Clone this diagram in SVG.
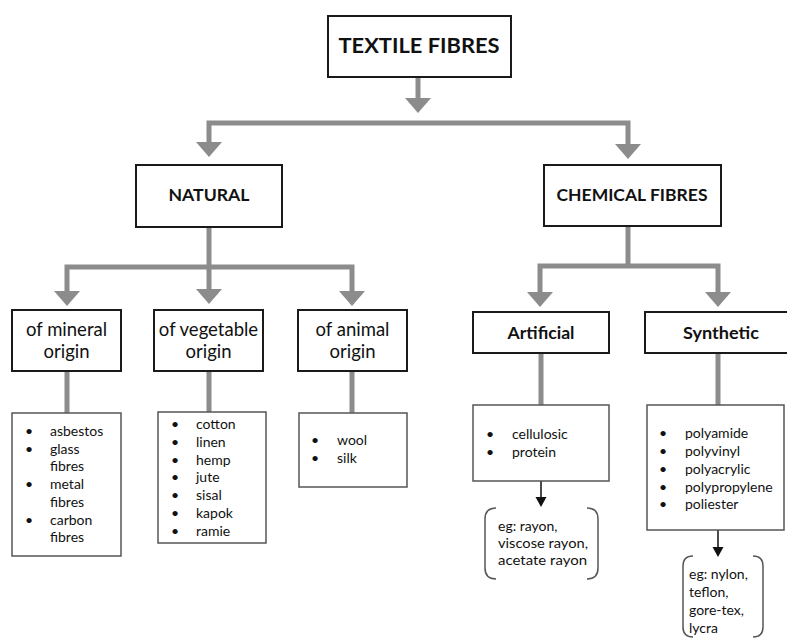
<svg xmlns="http://www.w3.org/2000/svg" width="787" height="640" viewBox="0 0 787 640">
<style>
.bg{fill:#fff}
.box{fill:#fff;stroke:#1a1a1a;stroke-width:2}
.list{fill:#fff;stroke:#555;stroke-width:1.5}
.conn{fill:none;stroke:#8c8c8c;stroke-width:5}
.head{fill:#8c8c8c}
.blk{fill:none;stroke:#111;stroke-width:1.5}
.bhead{fill:#111}
.brk{fill:none;stroke:#555;stroke-width:1.5}
.t{font-family:Lato,"Liberation Sans",sans-serif;fill:#111}
.b{font-weight:bold}
.c{text-anchor:middle}
.h1{font-size:21px}
.h2{font-size:17.5px}
.o{font-size:18.5px}
.l{font-size:14px}
</style>
<rect class="bg" x="0" y="0" width="787" height="640"/>
<g id="connectors">
<path class="conn" d="M418 77V99"/>
<polygon class="head" points="405,98 431,98 418,113"/>
<path class="conn" d="M209 142V123H628V144"/>
<polygon class="head" points="196,142 222,142 209,157"/>
<polygon class="head" points="615,144 641,144 628,159"/>
<path class="conn" d="M209 227V290"/>
<path class="conn" d="M67 292V267H352V292"/>
<polygon class="head" points="54,291 80,291 67,306"/>
<polygon class="head" points="196,289 222,289 209,304"/>
<polygon class="head" points="339,291 365,291 352,306"/>
<path class="conn" d="M628 226V266"/>
<path class="conn" d="M540 293V266H718V293"/>
<polygon class="head" points="527,292 553,292 540,307"/>
<polygon class="head" points="705,292 731,292 718,307"/>
<path class="conn" d="M67 371V413M209 371V412M352 371V413M541 353V405M718 353V405"/>
<path class="blk" d="M541 481V499M718 530V548"/>
<polygon class="bhead" points="535.5,497 546.5,497 541,507"/>
<polygon class="bhead" points="712.5,547 723.5,547 718,557"/>
</g>
<g id="textile-fibres">
<rect class="box" x="328" y="16" width="183" height="61"/>
<text class="t b c h1" x="419" y="53" textLength="161" lengthAdjust="spacingAndGlyphs">TEXTILE FIBRES</text>
</g>
<g id="natural">
<rect class="box" x="136" y="165" width="146" height="62"/>
<text class="t b c h2" x="209" y="201" textLength="81" lengthAdjust="spacingAndGlyphs">NATURAL</text>
</g>
<g id="chemical-fibres">
<rect class="box" x="544" y="165" width="177" height="61"/>
<text class="t b c h2" x="632" y="201" textLength="151" lengthAdjust="spacingAndGlyphs">CHEMICAL FIBRES</text>
</g>
<g id="mineral">
<rect class="box" x="12" y="310" width="109" height="61"/>
<text class="t c o" x="66.5" y="336">of mineral</text>
<text class="t c o" x="66.5" y="358">origin</text>
</g>
<g id="vegetable">
<rect class="box" x="154" y="310" width="109" height="61"/>
<text class="t c o" x="208.5" y="336">of vegetable</text>
<text class="t c o" x="208.5" y="358">origin</text>
</g>
<g id="animal">
<rect class="box" x="298" y="310" width="109" height="61"/>
<text class="t c o" x="352.5" y="336">of animal</text>
<text class="t c o" x="352.5" y="358">origin</text>
</g>
<g id="artificial">
<rect class="box" x="473" y="312" width="136" height="41"/>
<text class="t b c h2" x="541" y="339" textLength="67" lengthAdjust="spacingAndGlyphs">Artificial</text>
</g>
<g id="synthetic">
<rect class="box" x="645" y="312" width="150" height="41"/>
<text class="t b c h2" x="721" y="339" textLength="76" lengthAdjust="spacingAndGlyphs">Synthetic</text>
</g>
<g id="mineral-list">
<rect class="list" x="12" y="413" width="109" height="143"/>
<g class="t l">
<text x="25" y="436">•</text><text x="50" y="436">asbestos</text>
<text x="25" y="454">•</text><text x="50" y="454">glass</text>
<text x="50" y="471">fibres</text>
<text x="25" y="489">•</text><text x="50" y="489">metal</text>
<text x="50" y="507">fibres</text>
<text x="25" y="525">•</text><text x="50" y="525">carbon</text>
<text x="50" y="542">fibres</text>
</g>
</g>
<g id="vegetable-list">
<rect class="list" x="158" y="412" width="108" height="131"/>
<g class="t l">
<text x="171" y="429">•</text><text x="196" y="429">cotton</text>
<text x="171" y="447">•</text><text x="196" y="447">linen</text>
<text x="171" y="465">•</text><text x="196" y="465">hemp</text>
<text x="171" y="482">•</text><text x="196" y="482">jute</text>
<text x="171" y="500">•</text><text x="196" y="500">sisal</text>
<text x="171" y="518">•</text><text x="196" y="518">kapok</text>
<text x="171" y="536">•</text><text x="196" y="536">ramie</text>
</g>
</g>
<g id="animal-list">
<rect class="list" x="299" y="413" width="108" height="74"/>
<g class="t l">
<text x="311" y="445">•</text><text x="337" y="445">wool</text>
<text x="311" y="463">•</text><text x="337" y="463">silk</text>
</g>
</g>
<g id="artificial-list">
<rect class="list" x="473" y="405" width="136" height="76"/>
<g class="t l">
<text x="486" y="439">•</text><text x="512" y="439">cellulosic</text>
<text x="486" y="457">•</text><text x="512" y="457">protein</text>
</g>
</g>
<g id="synthetic-list">
<rect class="list" x="647" y="405" width="137" height="125"/>
<g class="t l">
<text x="659" y="438">•</text><text x="685" y="438">polyamide</text>
<text x="659" y="456">•</text><text x="685" y="456">polyvinyl</text>
<text x="659" y="474">•</text><text x="685" y="474">polyacrylic</text>
<text x="659" y="492">•</text><text x="685" y="492">polypropylene</text>
<text x="659" y="509">•</text><text x="685" y="509">poliester</text>
</g>
</g>
<g id="artificial-examples">
<path class="brk" d="M496 508Q485 508 485 519V568Q485 579 496 579M587 508Q598 508 598 519V568Q598 579 587 579"/>
<g class="t l">
<text x="498" y="531">eg: rayon,</text>
<text x="498" y="548" textLength="90" lengthAdjust="spacingAndGlyphs">viscose rayon,</text>
<text x="498" y="565" textLength="89" lengthAdjust="spacingAndGlyphs">acetate rayon</text>
</g>
</g>
<g id="synthetic-examples">
<path class="brk" d="M693 556Q683 556 683 566V627Q683 637 693 637M753 556Q763 556 763 566V627Q763 637 753 637"/>
<g class="t l">
<text x="689" y="579">eg: nylon,</text>
<text x="689" y="597">teflon,</text>
<text x="689" y="615">gore-tex,</text>
<text x="689" y="633">lycra</text>
</g>
</g>
</svg>
